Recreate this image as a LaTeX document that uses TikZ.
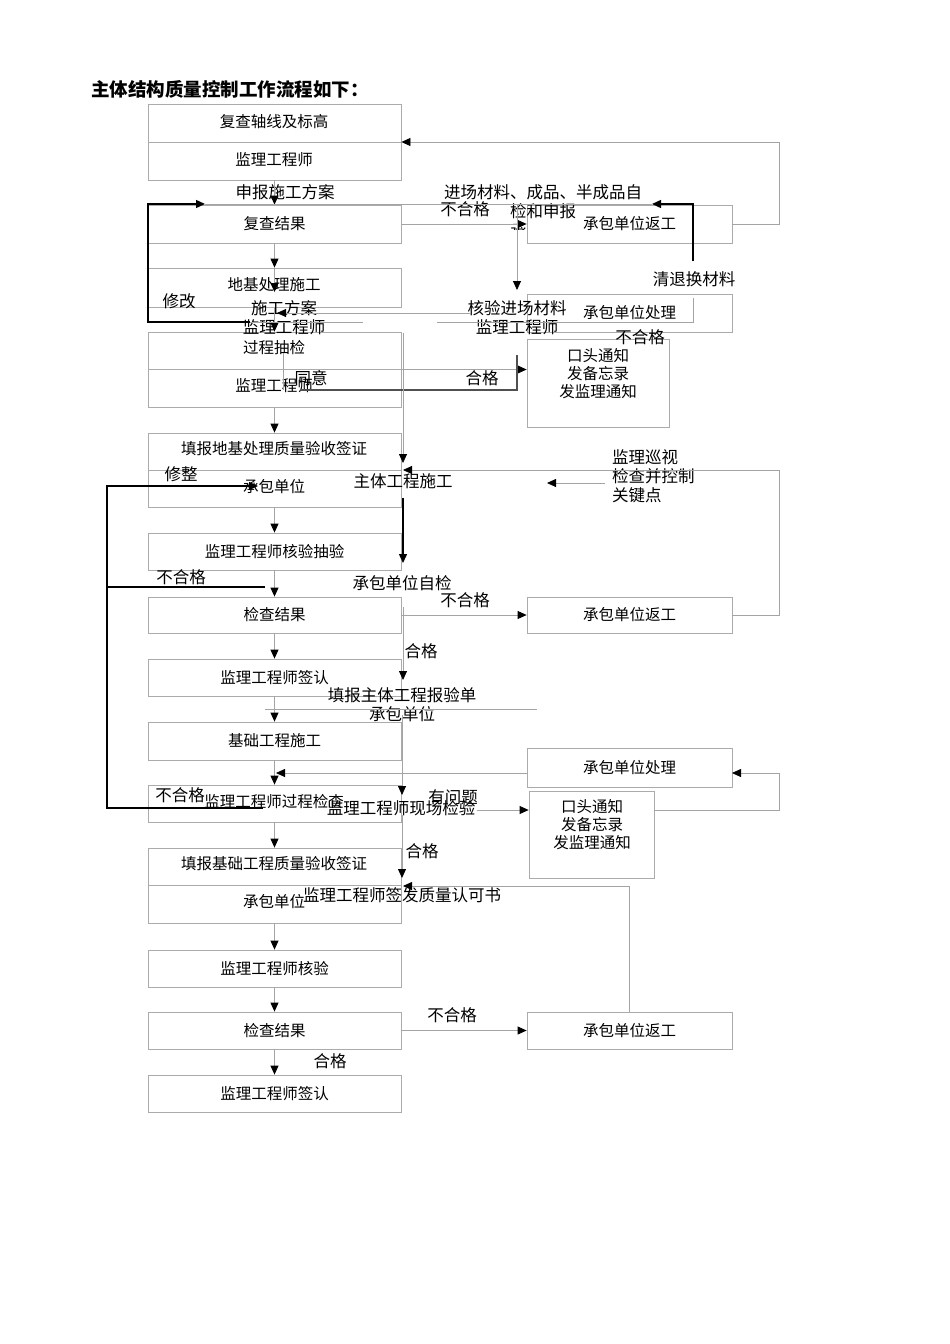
\documentclass[tikz,border=0pt]{standalone}
\usepackage{fontspec}
\newfontfamily\cjk{Noto Sans CJK SC}
\usetikzlibrary{arrows.meta}
\definecolor{boxgray}{HTML}{ABABAB}
\definecolor{lngray}{HTML}{A4A4A4}
\definecolor{darkln}{HTML}{505050}
\begin{document}
\begin{tikzpicture}[x=1pt,y=-1pt,
 box/.style={draw=boxgray,fill=white,line width=0.8pt,inner sep=0pt,font=\cjk\fontsize{15.5}{18}\selectfont},
 mbox/.style={box,minimum width=253pt},
 rbox/.style={box,minimum width=205pt},
 lab/.style={inner sep=0pt,font=\cjk\fontsize{16.5}{19}\selectfont},
 btxt/.style={inner sep=0pt,font=\cjk\fontsize{15.5}{18}\selectfont},
 conn/.style={draw=lngray,line width=0.8pt},
 heavy/.style={draw=black,line width=1.4pt},
 darkc/.style={draw=darkln,line width=1.3pt},
 arr/.style={-{Triangle[length=9pt,width=8pt,color=black]}},
]
\fill[white] (0,0) rectangle (950,1344);
\useasboundingbox (0,0) rectangle (950,1344);

% title
\node[anchor=west,inner sep=0pt,font=\cjk\bfseries\fontsize{18.5}{22}\selectfont] (title) at (91,89) {主体结构质量控制工作流程如下：};

% partly hidden texts
\node[lab] (hid1) at (285,212) {承包单位};
\begin{scope}
\clip (500,200) rectangle (600,229);
\node[lab] (hid2) at (543,231) {承包单位};
\end{scope}

% main column boxes
\node[mbox,minimum height=76pt] (B1) at (274.5,142) {};
\draw[draw=boxgray,line width=0.8pt] (B1.west) -- (B1.east);
\node[mbox,minimum height=38pt] (B2) at (274.5,224) {复查结果};
\node[mbox,minimum height=39pt] (B3) at (274.5,287.5) {};
\node[mbox,minimum height=75pt] (B4) at (274.5,369.5) {};
\draw[draw=boxgray,line width=0.8pt] (B4.west) -- (B4.east);
\node[mbox,minimum height=74pt] (B5) at (274.5,470) {};
\draw[draw=boxgray,line width=0.8pt] (B5.west) -- (B5.east);
\node[mbox,minimum height=37pt] (B6) at (274.5,551.5) {监理工程师核验抽验};
\node[mbox,minimum height=36pt] (B7) at (274.5,615) {检查结果};
\node[mbox,minimum height=37pt] (B8) at (274.5,677.5) {监理工程师签认};
\node[mbox,minimum height=38pt] (B9) at (274.5,741) {基础工程施工};
\node[mbox,minimum height=37pt] (B10) at (274.5,803.5) {};
\node[mbox,minimum height=75pt] (B11) at (274.5,885.5) {};
\draw[draw=boxgray,line width=0.8pt] (B11.west) -- (B11.east);
\node[mbox,minimum height=37pt] (B12) at (274.5,968.5) {监理工程师核验};
\node[mbox,minimum height=37pt] (B13) at (274.5,1030.5) {检查结果};
\node[mbox,minimum height=37pt] (B14) at (274.5,1093.5) {监理工程师签认};

% right boxes
\node[rbox,minimum height=38pt] (R1) at (629.5,224) {承包单位返工};
\node[rbox,minimum height=38pt] (R2) at (629.5,313) {承包单位处理};
\node[box,minimum width=142pt,minimum height=88pt] (R3) at (598,383) {};
\node[rbox,minimum height=36pt] (R4) at (629.5,615) {承包单位返工};
\node[rbox,minimum height=39pt] (R5) at (629.5,767.5) {承包单位处理};
\node[box,minimum width=125pt,minimum height=87pt] (R6) at (591.5,834.5) {};
\node[rbox,minimum height=37pt] (R7) at (629.5,1030.5) {承包单位返工};

% texts inside boxes
\node[btxt] (t1a) at (274,122) {复查轴线及标高};
\node[btxt] (t1b) at (274,160) {监理工程师};
\node[btxt] (t3) at (274,285) {地基处理施工};
\node[btxt] (t4a) at (274,348) {过程抽检};
\node[btxt] (t4b) at (274,386) {监理工程师};
\node[btxt] (t5a) at (274,449) {填报地基处理质量验收签证};
\node[btxt] (t5b) at (274,487) {承包单位};
\node[btxt] (t10) at (274,802) {监理工程师过程检查};
\node[btxt] (t11a) at (274,864) {填报基础工程质量验收签证};
\node[btxt] (t11b) at (274,902) {承包单位};
\node[btxt,align=center] (t3r) at (598,374) {口头通知\\发备忘录\\发监理通知};
\node[btxt,align=center] (t6r) at (592,825) {口头通知\\发备忘录\\发监理通知};

% labels
\node[lab] (l1) at (285,192) {申报施工方案};
\node[lab] (l2) at (543,192) {进场材料、成品、半成品自};
\node[lab] (l3) at (465,209) {不合格};
\node[lab] (l4) at (543,211) {检和申报};
\node[lab] (l5) at (694,279) {清退换材料};
\node[lab] (l6) at (179,301) {修改};
\node[lab] (l7) at (284,308) {施工方案};
\node[lab] (l8) at (284,327) {监理工程师};
\node[lab] (l9) at (517,308) {核验进场材料};
\node[lab] (l10) at (517,327) {监理工程师};
\node[lab] (l11) at (640,337) {不合格};
\node[lab] (l12) at (311,378) {同意};
\node[lab] (l13) at (482,378) {合格};
\node[lab] (l14) at (181,474) {修整};
\node[lab] (l15) at (403,481) {主体工程施工};
\node[lab,anchor=west,align=left] (l16) at (612,476) {监理巡视\\检查并控制\\关键点};
\node[lab] (l17) at (181,577) {不合格};
\node[lab] (l18) at (402,583) {承包单位自检};
\node[lab] (l19) at (465,600) {不合格};
\node[lab] (l20) at (421,651) {合格};
\node[lab] (l21) at (402,695) {填报主体工程报验单};
\node[lab] (l22) at (402,714) {承包单位};
\node[lab] (l23) at (453,797) {有问题};
\node[lab] (l24) at (180,795) {不合格};
\node[lab] (l25) at (401,808) {监理工程师现场检验};
\node[lab] (l26) at (422,851) {合格};
\node[lab] (l27) at (402,895) {监理工程师签发质量认可书};
\node[lab] (l28) at (452,1015) {不合格};
\node[lab] (l29) at (330,1061) {合格};

% coordinates
\coordinate (c292) at (274.5,292);
\coordinate (q1) at (693,261);
\coordinate (q2) at (652,204);
\coordinate (g1) at (205,204);
\coordinate (m1) at (250,322);
\coordinate (m2) at (363,322);
\coordinate (L1) at (148,322);
\coordinate (v1) at (517,204);
\coordinate (v2) at (517,290);
\coordinate (h1) at (470,313);
\coordinate (h2) at (277,313);
\coordinate (k1) at (437,322);
\coordinate (k2) at (693,298);
\coordinate (d1) at (300,390);
\coordinate (d2) at (517,355);
\coordinate (y1) at (283,353);
\coordinate (y2) at (283,390);
\coordinate (e1) at (403,333);
\coordinate (e2) at (403,463);
\coordinate (e3) at (403,470);
\coordinate (p1) at (605,483);
\coordinate (p2) at (547,483);
\coordinate (f1) at (403,498);
\coordinate (f2) at (403,563);
\coordinate (n1) at (403,607);
\coordinate (n2) at (403,680);
\coordinate (o1) at (265,709);
\coordinate (o2) at (537,709);
\coordinate (u1) at (402,715);
\coordinate (u2) at (402,795);
\coordinate (r5a) at (527,773);
\coordinate (r5b) at (276,773);
\coordinate (r5c) at (732,773);
\coordinate (s1) at (477,810);
\coordinate (s2) at (779,810);
\coordinate (x1) at (402,815);
\coordinate (x2) at (402,878);
\coordinate (t1) at (403,886);
\coordinate (W) at (107,486);
\coordinate (w1) at (258,486);
\coordinate (w2) at (265,587);
\coordinate (w3) at (263,808);
\coordinate (W2) at (107,587);

% main vertical arrows
\draw[conn,arr] (B1.south) -- (B2.north);
\draw[conn,arr] (B2.south) -- (B3.north);
\draw[conn,arr] (B3.north) -- (c292);
\draw[conn,arr] (B3.south) -- (B4.north);
\draw[conn,arr] (B4.south) -- (B5.north);
\draw[conn,arr] (B5.south) -- (B6.north);
\draw[conn,arr] (B6.south) -- (B7.north);
\draw[conn,arr] (B7.south) -- (B8.north);
\draw[conn,arr] (B8.south) -- (B9.north);
\draw[conn,arr] (B9.south) -- (B10.north);
\draw[conn,arr] (B10.south) -- (B11.north);
\draw[conn,arr] (B11.south) -- (B12.north);
\draw[conn,arr] (B12.south) -- (B13.north);
\draw[conn,arr] (B13.south) -- (B14.north);

% upper right connectors
\draw[conn,arr] (R1.east) -- ++(47,0) |- (B1.east);
\draw[conn,arr] (B2.east) -- (R1.west);
\draw[conn] (q2) -- (g1);
\draw[heavy,arr] (q1) |- (q2);
\draw[conn] (m1) -- (m2);
\draw[heavy,arr] (m1) -- (L1) |- (g1);
\draw[conn,arr] (v1) -- (v2);
\draw[conn,arr] (h1) -- (h2);
\draw[conn] (k1) -| (k2);
\draw[conn,arr] (B4.east) -- (B4.east -| R3.west);
\draw[darkc] (d1) -| (d2);
\draw[conn] (y1) -- (y2);
\draw[conn,arr] (e1) -- (e2);
\draw[conn,arr] (R4.east) -- ++(47,0) |- (e3);
\draw[conn,arr] (p1) -- (p2);
\draw[heavy,arr] (f1) -- (f2);
\draw[conn,arr] (B7.east) -- (R4.west);
\draw[conn,arr] (n1) -- (n2);
\draw[conn] (o1) -- (o2);
\draw[conn,arr] (u1) -- (u2);
\draw[conn,arr] (r5a) -- (r5b);
\draw[conn,arr] (s1) -- (s1 -| R6.west);
\draw[conn,arr] (s1 -| R6.east) -- (s2) |- (r5c);
\draw[conn,arr] (x1) -- (x2);
\draw[conn,arr] (R7.north) |- (t1);
\draw[conn,arr] (B13.east) -- (R7.west);

% left thick loop
\draw[heavy] (w2) -- (W2);
\draw[heavy,arr] (w3) -| (W) -- (w1);
\end{tikzpicture}
\end{document}
